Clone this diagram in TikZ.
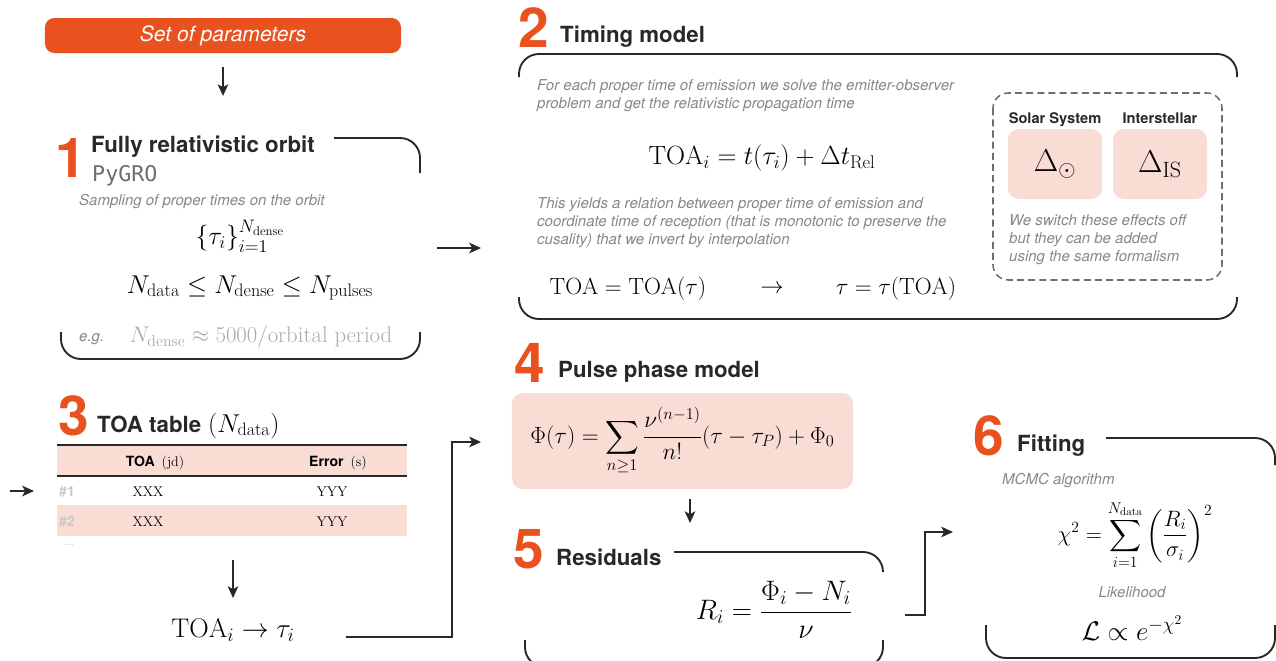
\RequirePackage{fix-cm}
\documentclass[tikz,border=0pt]{standalone}
\usepackage{amsmath,amssymb}
\usepackage{fontspec}
\setsansfont{TeX Gyre Heros}
\setmonofont{DejaVu Sans Mono}
\usetikzlibrary{arrows.meta,positioning}
\definecolor{flame}{RGB}{233,81,30}
\definecolor{softpink}{RGB}{249,221,213}
\definecolor{ink}{RGB}{40,40,40}
\definecolor{notegray}{RGB}{135,135,135}
\definecolor{palegray}{RGB}{170,170,170}
\definecolor{rowgray}{RGB}{200,200,200}
\definecolor{codegray}{RGB}{110,110,110}

\begin{document}
\begin{tikzpicture}[x=0.03cm,y=-0.03cm,
  >={Stealth[length=10pt,width=9pt,inset=2.5pt]},
  flow/.style={->,line width=1.6pt,draw=ink},
  frameline/.style={line width=1.6pt,draw=ink,rounded corners=17pt},
  stepnum/.style={font=\sffamily\bfseries\fontsize{47}{47}\selectfont,text=flame,inner sep=0pt,anchor=base west},
  heading/.style={font=\sffamily\bfseries\fontsize{19}{22}\selectfont,text=ink,inner sep=0pt,anchor=base west},
  note/.style={font=\sffamily\itshape\fontsize{12.8}{15.4}\selectfont,text=notegray,inner sep=0pt,align=left},
  eq/.style={font=\fontsize{20}{24}\selectfont,inner sep=0pt},
  pinkbox/.style={fill=softpink,rounded corners=9pt,inner sep=0pt},
  cell/.style={font=\fontsize{12}{14}\selectfont,inner sep=0pt,anchor=base},
]
\clip (0,0) rectangle (1276,660);

% input parameters
\node[fill=flame,rounded corners=8pt,minimum width=10.68cm,minimum height=1.05cm,inner sep=0pt,
  text=white,font=\sffamily\itshape\fontsize{18}{20}\selectfont] (params) at (223,35.5) {Set of parameters};
\coordinate (p1) at (223,67);
\coordinate (p2) at (223,96);
\draw[flow] (p1) -- (p2);

% 1 orbit
\node[stepnum] (n1) at (55,177) {1};
\node[heading] (orbit) at (91,152) {Fully relativistic orbit};
\node[anchor=base west,inner sep=0pt,font=\ttfamily\fontsize{18.5}{22}\selectfont,text=codegray] (pygro) at (92,181) {PyGRO};
\draw[frameline] (334,138) -| (420,173);
\draw[frameline] (61,332) |- (420,359) -- (420,332);
\node[note,anchor=base west] (sampling) at (79,205) {Sampling of proper times on the orbit};
\node[eq,font=\fontsize{22}{26}\selectfont] (taus) at (240,236) {$\left\{\tau_i\right\}_{i=1}^{N_{\rm dense}}$};
\node[eq,font=\fontsize{22}{26}\selectfont] (counts) at (250,288) {$N_{\rm data}\le N_{\rm dense}\le N_{\rm pulses}$};
\node[note,anchor=base west] (eg) at (79,341) {e.g.};
\node[eq,font=\fontsize{19.4}{23}\selectfont,text=palegray] (dense) at (261,337) {$N_{\rm dense}\approx 5000/\text{orbital period}$};
\coordinate (o1) at (437,248);
\coordinate (o2) at (481,248);
\draw[flow] (o1) -- (o2);

% 2 timing model
\node[stepnum] (n2) at (518,47) {2};
\node[heading] (timing) at (560,42) {Timing model};
\draw[frameline] (519,77) |- (1237,54) -- (1237,77);
\draw[frameline] (519,297) |- (1237,319) -- (1237,297);
\node[note,anchor=north west] (emit) at (537,79)
  {For each proper time of emission we solve the emitter-observer\\problem and get the relativistic propagation time};
\node[eq,font=\fontsize{22.5}{26}\selectfont] (toai) at (762,158) {$\mathrm{TOA}_i = t(\tau_i) + \Delta t_{\rm Rel}$};
\node[note,anchor=north west] (yields) at (537,197)
  {This yields a relation between proper time of emission and\\coordinate time of reception (that is monotonic to preserve the\\cusality) that we invert by interpolation};
\node[eq,font=\fontsize{20}{24}\selectfont] (toatau) at (628,289) {$\mathrm{TOA} = \mathrm{TOA}(\tau)$};
\node[eq,font=\fontsize{20}{24}\selectfont] (maps) at (772,289) {$\rightarrow$};
\node[eq,font=\fontsize{20}{24}\selectfont] (tautoa) at (896,289) {$\tau = \tau(\mathrm{TOA})$};
\draw[line width=1.3pt,draw=codegray,dash pattern=on 6pt off 3.5pt,rounded corners=13pt] (993,93) rectangle (1222,280);
\node[font=\sffamily\bfseries\fontsize{12.5}{15}\selectfont,text=ink,anchor=base] (solar) at (1055,123) {Solar System};
\node[font=\sffamily\bfseries\fontsize{12.5}{15}\selectfont,text=ink,anchor=base] (inter) at (1160,123) {Interstellar};
\node[pinkbox,minimum width=2.82cm,minimum height=2.1cm,font=\fontsize{27}{30}\selectfont] (sun) at (1055,164) {$\Delta_\odot$};
\node[pinkbox,minimum width=2.82cm,minimum height=2.1cm,font=\fontsize{27}{30}\selectfont] (ism) at (1160,164) {$\Delta_{\rm IS}$};
\node[note,anchor=north west] (switch) at (1009,214)
  {We switch these effects off\\but they can be added\\using the same formalism};

% 3 TOA table
\node[stepnum] (n3) at (58,435) {3};
\node[heading] (table) at (97,432) {TOA table};
\node[anchor=base west,inner sep=0pt,font=\fontsize{22}{24}\selectfont] (ndata) at (208,432) {$(N_{\rm data})$};
\fill[softpink] (57,445) rectangle (407,476);
\fill[softpink] (57,505) rectangle (407,536);
\draw[line width=1.2pt,ink] (57,445) -- (407,445);
\draw[line width=1.2pt,ink] (57,476) -- (407,476);
\node[cell] (hdtoa) at (155,466) {{\sffamily\bfseries TOA}\enspace(jd)};
\node[cell] (hderr) at (338,466) {{\sffamily\bfseries Error}\enspace(s)};
\foreach \row/\y in {1/496,2/526} {
  \node[cell,anchor=base west,font=\sffamily\bfseries\fontsize{12}{14}\selectfont,text=rowgray] (idx\row) at (59,\y) {\#\row};
  \node[cell] (toa\row) at (148,\y) {XXX};
  \node[cell] (err\row) at (332,\y) {YYY};
}
\node[font=\sffamily\fontsize{10}{12}\selectfont,text=rowgray,inner sep=0pt] (more) at (69,545) {...};
\coordinate (t1) at (10,491);
\coordinate (t2) at (34,491);
\draw[flow] (t1) -- (t2);
\coordinate (t3) at (233,560);
\coordinate (t4) at (233,598);
\draw[flow] (t3) -- (t4);
\node[eq,font=\fontsize{23}{26}\selectfont] (convert) at (233,630) {$\mathrm{TOA}_i \rightarrow \tau_i$};
\coordinate (c1) at (346,637);
\coordinate (c2) at (452,442);
\coordinate (c3) at (481,442);
\draw[flow] (c1) -| (c2) -- (c3);

% 4 pulse phase
\node[stepnum] (n4) at (514,382) {4};
\node[heading] (pulse) at (558,377) {Pulse phase model};
\node[pinkbox,minimum width=10.23cm,minimum height=2.88cm,font=\fontsize{20}{24}\selectfont] (phase) at (682.5,441)
  {$\displaystyle \Phi(\tau) = \sum_{n\ge 1}\frac{\nu^{(n-1)}}{n!}(\tau-\tau_P)+\Phi_0$};
\coordinate (f1) at (690,499);
\coordinate (f2) at (690,523);
\draw[flow] (f1) -- (f2);

% 5 residuals
\node[stepnum] (n5) at (513,568) {5};
\node[heading] (resid) at (556,565) {Residuals};
\draw[frameline] (674,552) -| (883,572);
\draw[frameline] (525,640) |- (883,667) -- (883,640);
\node[eq,font=\fontsize{24}{28}\selectfont] (ri) at (774,610) {$\displaystyle R_i = \frac{\Phi_i - N_i}{\nu}$};
\coordinate (r1) at (905,615);
\coordinate (r2) at (925,532);
\coordinate (r3) at (953,532);
\draw[flow] (r1) -| (r2) -- (r3);

% 6 fitting
\node[stepnum] (n6) at (973,455) {6};
\node[heading] (fit) at (1017,451) {Fitting};
\draw[frameline] (1106,438) -| (1275,465);
\draw[frameline] (986,625) |- (1275,658) -- (1275,625);
\node[note,anchor=base west] (mcmc) at (1002,484) {MCMC algorithm};
\node[eq,font=\fontsize{19}{23}\selectfont] (chi) at (1135,535)
  {$\displaystyle \chi^2 = \sum_{i=1}^{N_{\rm data}}\left(\frac{R_i}{\sigma_i}\right)^2$};
\node[note,anchor=base] (like) at (1132,597) {Likelihood};
\node[eq,font=\fontsize{23}{26}\selectfont] (lik) at (1132,628) {$\mathcal{L}\propto e^{-\chi^2}$};
\end{tikzpicture}
\end{document}
